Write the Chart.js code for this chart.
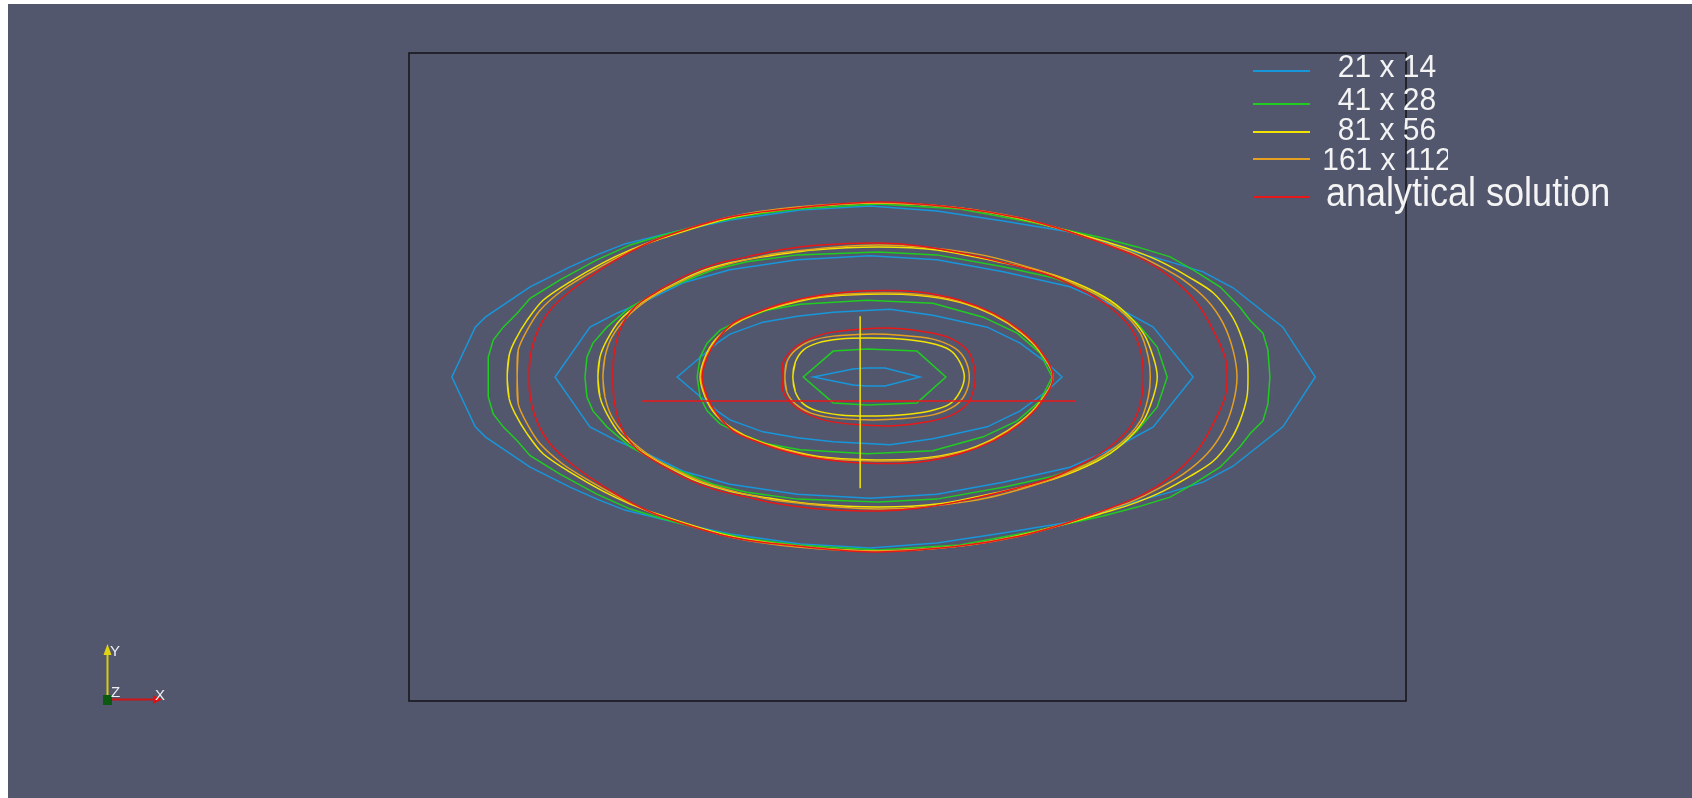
<!DOCTYPE html>
<html lang="en">
<head>
    <meta charset="UTF-8">
    <title>Contours: mesh refinement vs analytical solution</title>
    <script src="https://cdn.jsdelivr.net/npm/chart.js"></script>
    <style>
        html, body { margin: 0; padding: 0; background: #ffffff; }
        #graph { display: block; }
    </style>
</head>
<body>
    <canvas id="graph" width="1692" height="798"></canvas>

    <script>
        // Series names and colours (legend order)
        const seriesLabels = ['21 x 14', '41 x 28', '81 x 56', '161 x 112', 'analytical solution'];
        const seriesColors = ['#1896da', '#20cc20', '#f2e400', '#e6a020', '#e81818'];

        // Contour lines, upper half only (x, y).
        // Each contour is symmetric about y = 0; levels 1..4 go from outer to inner.
        const mesh21_c1 = [[-0.855, 0], [-0.808, 0.100], [-0.788, 0.120], [-0.698, 0.181], [-0.618, 0.221], [-0.564, 0.245], [-0.508, 0.267], [-0.427, 0.287], [-0.297, 0.315], [-0.156, 0.335], [-0.016, 0.343], [0.118, 0.333], [0.251, 0.313], [0.385, 0.291], [0.520, 0.249], [0.586, 0.231], [0.652, 0.211], [0.712, 0.179], [0.812, 0.100], [0.877, 0]];
        const mesh21_c2 = [[-0.648, 0], [-0.578, 0.100], [-0.524, 0.128], [-0.463, 0.154], [-0.391, 0.189], [-0.297, 0.215], [-0.162, 0.235], [-0.016, 0.243], [0.118, 0.235], [0.251, 0.211], [0.385, 0.181], [0.479, 0.140], [0.552, 0.100], [0.632, 0]];
        const mesh21_c3 = [[-0.403, 0], [-0.363, 0.034], [-0.323, 0.068], [-0.297, 0.086], [-0.231, 0.110], [-0.162, 0.122], [-0.090, 0.130], [0.024, 0.136], [0.110, 0.124], [0.219, 0.100], [0.285, 0.068], [0.339, 0.028], [0.369, 0]];
        const mesh21_c4 = [[-0.130, 0], [-0.050, 0.016], [-0.023, 0.018], [0.014, 0.018], [0.084, 0]];

        const mesh41_c1 = [[-0.782, 0], [-0.782, 0.040], [-0.772, 0.074], [-0.752, 0.100], [-0.724, 0.128], [-0.698, 0.158], [-0.638, 0.195], [-0.564, 0.235], [-0.497, 0.265], [-0.431, 0.285], [-0.363, 0.303], [-0.263, 0.324], [-0.162, 0.337], [0, 0.347], [0.164, 0.337], [0.305, 0.311], [0.451, 0.279], [0.520, 0.261], [0.586, 0.241], [0.632, 0.215], [0.686, 0.181], [0.726, 0.140], [0.746, 0.114], [0.772, 0.088], [0.782, 0.054], [0.786, 0]];
        const mesh41_c2 = [[-0.588, 0], [-0.584, 0.040], [-0.572, 0.068], [-0.544, 0.100], [-0.497, 0.140], [-0.443, 0.169], [-0.391, 0.191], [-0.331, 0.215], [-0.263, 0.231], [-0.162, 0.245], [0, 0.251], [0.118, 0.245], [0.251, 0.221], [0.351, 0.199], [0.419, 0.175], [0.465, 0.154], [0.520, 0.108], [0.560, 0.060], [0.580, 0]];
        const mesh41_c3 = [[-0.363, 0], [-0.357, 0.040], [-0.343, 0.068], [-0.317, 0.094], [-0.277, 0.114], [-0.223, 0.134], [-0.156, 0.146], [-0.022, 0.154], [0.110, 0.148], [0.211, 0.120], [0.279, 0.088], [0.325, 0.048], [0.349, 0]];
        const mesh41_c4 = [[-0.150, 0], [-0.090, 0.052], [-0.022, 0.056], [0.078, 0.052], [0.136, 0]];

        const mesh81_c1 = [[-0.744, 0], [-0.740, 0.044], [-0.728, 0.074], [-0.704, 0.114], [-0.672, 0.154], [-0.618, 0.191], [-0.552, 0.229], [-0.497, 0.255], [-0.443, 0.275], [-0.297, 0.319], [-0.162, 0.339], [0, 0.349], [0.164, 0.339], [0.305, 0.313], [0.465, 0.269], [0.520, 0.251], [0.572, 0.229], [0.626, 0.199], [0.672, 0.169], [0.706, 0.128], [0.726, 0.088], [0.740, 0.040], [0.742, 0]];
        const mesh81_c2 = [[-0.562, 0], [-0.558, 0.040], [-0.544, 0.074], [-0.518, 0.114], [-0.477, 0.148], [-0.431, 0.175], [-0.363, 0.209], [-0.297, 0.229], [-0.231, 0.241], [-0.130, 0.255], [0, 0.261], [0.118, 0.255], [0.251, 0.229], [0.351, 0.205], [0.439, 0.169], [0.491, 0.134], [0.532, 0.088], [0.552, 0.040], [0.560, 0]];
        const mesh81_c3 = [[-0.357, 0], [-0.347, 0.040], [-0.327, 0.074], [-0.291, 0.104], [-0.243, 0.128], [-0.183, 0.146], [-0.116, 0.160], [-0.022, 0.166], [0.078, 0.164], [0.164, 0.150], [0.231, 0.124], [0.285, 0.090], [0.325, 0.050], [0.351, 0]];
        const mesh81_c4 = [[-0.171, 0], [-0.166, 0.030], [-0.150, 0.054], [-0.122, 0.068], [-0.076, 0.076], [-0.022, 0.078], [0.044, 0.076], [0.104, 0.068], [0.144, 0.054], [0.164, 0.030], [0.173, 0]];

        const mesh161_c1 = [[-0.724, 0], [-0.722, 0.054], [-0.704, 0.094], [-0.678, 0.134], [-0.632, 0.175], [-0.578, 0.209], [-0.524, 0.239], [-0.471, 0.265], [-0.431, 0.281], [-0.297, 0.321], [-0.162, 0.341], [0, 0.349], [0.164, 0.339], [0.285, 0.319], [0.385, 0.291], [0.451, 0.269], [0.506, 0.251], [0.560, 0.225], [0.612, 0.195], [0.660, 0.154], [0.692, 0.108], [0.712, 0.054], [0.720, 0]];
        const mesh161_c2 = [[-0.552, 0], [-0.548, 0.040], [-0.534, 0.080], [-0.504, 0.120], [-0.463, 0.154], [-0.417, 0.181], [-0.351, 0.211], [-0.283, 0.231], [-0.197, 0.249], [0, 0.265], [0.185, 0.249], [0.319, 0.215], [0.419, 0.175], [0.485, 0.134], [0.526, 0.088], [0.542, 0.040], [0.546, 0]];
        const mesh161_c3 = [[-0.355, 0], [-0.345, 0.040], [-0.325, 0.074], [-0.291, 0.106], [-0.243, 0.129], [-0.183, 0.148], [-0.116, 0.162], [-0.022, 0.168], [0.078, 0.166], [0.164, 0.152], [0.231, 0.126], [0.285, 0.092], [0.325, 0.052], [0.351, 0]];
        const mesh161_c4 = [[-0.187, 0], [-0.183, 0.030], [-0.166, 0.054], [-0.136, 0.072], [-0.090, 0.082], [-0.022, 0.086], [0.044, 0.084], [0.110, 0.076], [0.154, 0.058], [0.175, 0.034], [0.183, 0]];

        const exact_c1 = [[-0.700, 0], [-0.698, 0.040], [-0.684, 0.090], [-0.658, 0.134], [-0.618, 0.172], [-0.564, 0.211], [-0.497, 0.251], [-0.431, 0.281], [-0.297, 0.321], [-0.162, 0.339], [0, 0.351], [0.164, 0.339], [0.285, 0.319], [0.385, 0.291], [0.520, 0.241], [0.586, 0.201], [0.640, 0.148], [0.672, 0.094], [0.696, 0.040], [0.700, 0]];
        const exact_c2 = [[-0.532, 0], [-0.530, 0.044], [-0.518, 0.094], [-0.491, 0.138], [-0.443, 0.172], [-0.391, 0.201], [-0.331, 0.225], [-0.263, 0.241], [-0.197, 0.255], [-0.116, 0.265], [0, 0.269], [0.084, 0.263], [0.185, 0.245], [0.285, 0.221], [0.351, 0.201], [0.419, 0.169], [0.465, 0.140], [0.506, 0.100], [0.526, 0.054], [0.532, 0]];
        const exact_c3 = [[-0.353, 0], [-0.343, 0.040], [-0.323, 0.074], [-0.291, 0.108], [-0.243, 0.130], [-0.183, 0.150], [-0.116, 0.164], [-0.022, 0.173], [0.078, 0.171], [0.164, 0.154], [0.231, 0.128], [0.285, 0.094], [0.325, 0.054], [0.351, 0]];
        const exact_c4 = [[-0.193, 0], [-0.191, 0.028], [-0.177, 0.050], [-0.150, 0.070], [-0.102, 0.088], [-0.036, 0.096], [0.030, 0.098], [0.098, 0.090], [0.144, 0.078], [0.179, 0.054], [0.191, 0.028], [0.195, 0]];

        // Probe lines through the middle
        const probeX = [[-0.473, -0.048], [0.395, -0.048]];
        const probeY = [[-0.036, 0.122], [-0.036, -0.223]];

        // Domain shown in the frame
        const xRange = [-0.941, 1.059];
        const yRange = [-0.650, 0.650];

        // mirror the upper half to close a contour; one extra point each way keeps the join smooth
        function ring(upper) {
            const top = upper.map(p => ({ x: p[0], y: p[1] }));
            const bottom = upper.slice(0, -1).reverse().map(p => ({ x: p[0], y: -p[1] }));
            const pts = top.concat(bottom);
            return [pts[pts.length - 2]].concat(pts, [pts[1]]);
        }

        // join several contours in one dataset, separated by gaps
        function contours(list) {
            let out = [];
            list.forEach((c, i) => {
                if (i > 0) out.push({ x: null, y: null });
                out = out.concat(ring(c));
            });
            return out;
        }

        const seriesData = [
            contours([mesh21_c1, mesh21_c2, mesh21_c3, mesh21_c4]),
            contours([mesh41_c1, mesh41_c2, mesh41_c3, mesh41_c4]),
            contours([mesh81_c1, mesh81_c2, mesh81_c3, mesh81_c4]),
            contours([mesh161_c1, mesh161_c2, mesh161_c3, mesh161_c4]),
            contours([exact_c1, exact_c2, exact_c3, exact_c4])
        ];
        // coarse meshes give straight polylines, the finer ones look smooth
        const seriesTension = [0, 0, 0.3, 0.3, 0.35];

        const datasets = seriesLabels.map((label, i) => ({
            label: label,
            data: seriesData[i],
            showLine: true,
            borderColor: seriesColors[i],
            borderWidth: 1.5,
            pointRadius: 0,
            fill: false,
            spanGaps: false,
            tension: seriesTension[i],
            order: seriesLabels.length - 1 - i
        }));
        datasets.push({
            label: 'probe x',
            data: probeX.map(p => ({ x: p[0], y: p[1] })),
            showLine: true, borderColor: seriesColors[4], borderWidth: 1.5,
            pointRadius: 0, fill: false, order: -1
        });
        datasets.push({
            label: 'probe y',
            data: probeY.map(p => ({ x: p[0], y: p[1] })),
            showLine: true, borderColor: seriesColors[2], borderWidth: 1.5,
            pointRadius: 0, fill: false, order: -2
        });

        // grey view background with the thin white margin of the screenshot, plus the frame
        const viewPlugin = {
            id: 'view',
            beforeDraw(chart) {
                const ctx = chart.ctx;
                ctx.save();
                ctx.fillStyle = '#ffffff';
                ctx.fillRect(0, 0, chart.width, chart.height);
                ctx.fillStyle = '#52576e';
                ctx.fillRect(8, 4, chart.width - 8, chart.height - 4);
                ctx.restore();
            },
            beforeDatasetsDraw(chart) {
                const a = chart.chartArea;
                const ctx = chart.ctx;
                ctx.save();
                ctx.strokeStyle = '#17171c';
                ctx.lineWidth = 1.6;
                ctx.strokeRect(a.left, a.top, a.right - a.left, a.bottom - a.top);
                ctx.restore();
            }
        };

        // legend in the top right corner, drawn from the series arrays
        const legendPlugin = {
            id: 'cornerLegend',
            afterDraw(chart) {
                const ctx = chart.ctx;
                const lineY = [71, 104, 132, 159, 197];
                const baseY = [77, 110, 140, 170, 206];
                ctx.save();
                seriesLabels.forEach((label, i) => {
                    ctx.strokeStyle = seriesColors[i];
                    ctx.lineWidth = 2;
                    ctx.beginPath();
                    ctx.moveTo(1253, lineY[i]);
                    ctx.lineTo(1310, lineY[i]);
                    ctx.stroke();

                    const long = label.length > 10;
                    ctx.save();
                    if (!long) {
                        ctx.beginPath();
                        ctx.rect(1240, 0, 208, chart.height);
                        ctx.clip();
                    }
                    ctx.font = (long ? 36 : 30) + 'px "Liberation Sans", Arial, sans-serif';
                    ctx.fillStyle = '#f4f4f4';
                    ctx.textBaseline = 'alphabetic';
                    ctx.textAlign = long ? 'left' : 'center';
                    ctx.translate(long ? 1326 : 1387, baseY[i]);
                    ctx.scale(1, long ? 1.15 : 1.07);
                    ctx.fillText(label, 0, 0);
                    ctx.restore();
                });
                ctx.restore();
            }
        };

        // small orientation axes in the lower left corner
        const triadPlugin = {
            id: 'triad',
            afterDraw(chart) {
                const ctx = chart.ctx;
                ctx.save();
                ctx.lineWidth = 2;
                ctx.strokeStyle = '#d6cc10';
                ctx.beginPath();
                ctx.moveTo(107.5, 698);
                ctx.lineTo(107.5, 655);
                ctx.stroke();
                ctx.fillStyle = '#e2d410';
                ctx.beginPath();
                ctx.moveTo(103.5, 655);
                ctx.lineTo(111.5, 655);
                ctx.lineTo(107.5, 644);
                ctx.closePath();
                ctx.fill();

                ctx.strokeStyle = '#d01414';
                ctx.beginPath();
                ctx.moveTo(111, 699.5);
                ctx.lineTo(153, 699.5);
                ctx.stroke();
                ctx.fillStyle = '#e01010';
                ctx.beginPath();
                ctx.moveTo(153, 695);
                ctx.lineTo(153, 704);
                ctx.lineTo(162, 699.5);
                ctx.closePath();
                ctx.fill();

                ctx.fillStyle = '#0c5a12';
                ctx.fillRect(103, 695, 9, 10);

                ctx.fillStyle = '#f0f0f0';
                ctx.font = '15px "Liberation Sans", Arial, sans-serif';
                ctx.textAlign = 'left';
                ctx.textBaseline = 'alphabetic';
                ctx.fillText('Y', 110, 656);
                ctx.fillText('Z', 111, 697);
                ctx.fillText('X', 155, 700);
                ctx.restore();
            }
        };

        new Chart(document.getElementById('graph').getContext('2d'), {
            type: 'scatter',
            data: { datasets: datasets },
            options: {
                responsive: false,
                animation: false,
                events: [],
                layout: { padding: { left: 409, top: 53, right: 286, bottom: 97 } },
                scales: {
                    x: { type: 'linear', min: xRange[0], max: xRange[1], display: false },
                    y: { type: 'linear', min: yRange[0], max: yRange[1], display: false }
                },
                plugins: {
                    legend: { display: false },
                    tooltip: { enabled: false }
                }
            },
            plugins: [viewPlugin, legendPlugin, triadPlugin]
        });
    </script>
</body>
</html>
